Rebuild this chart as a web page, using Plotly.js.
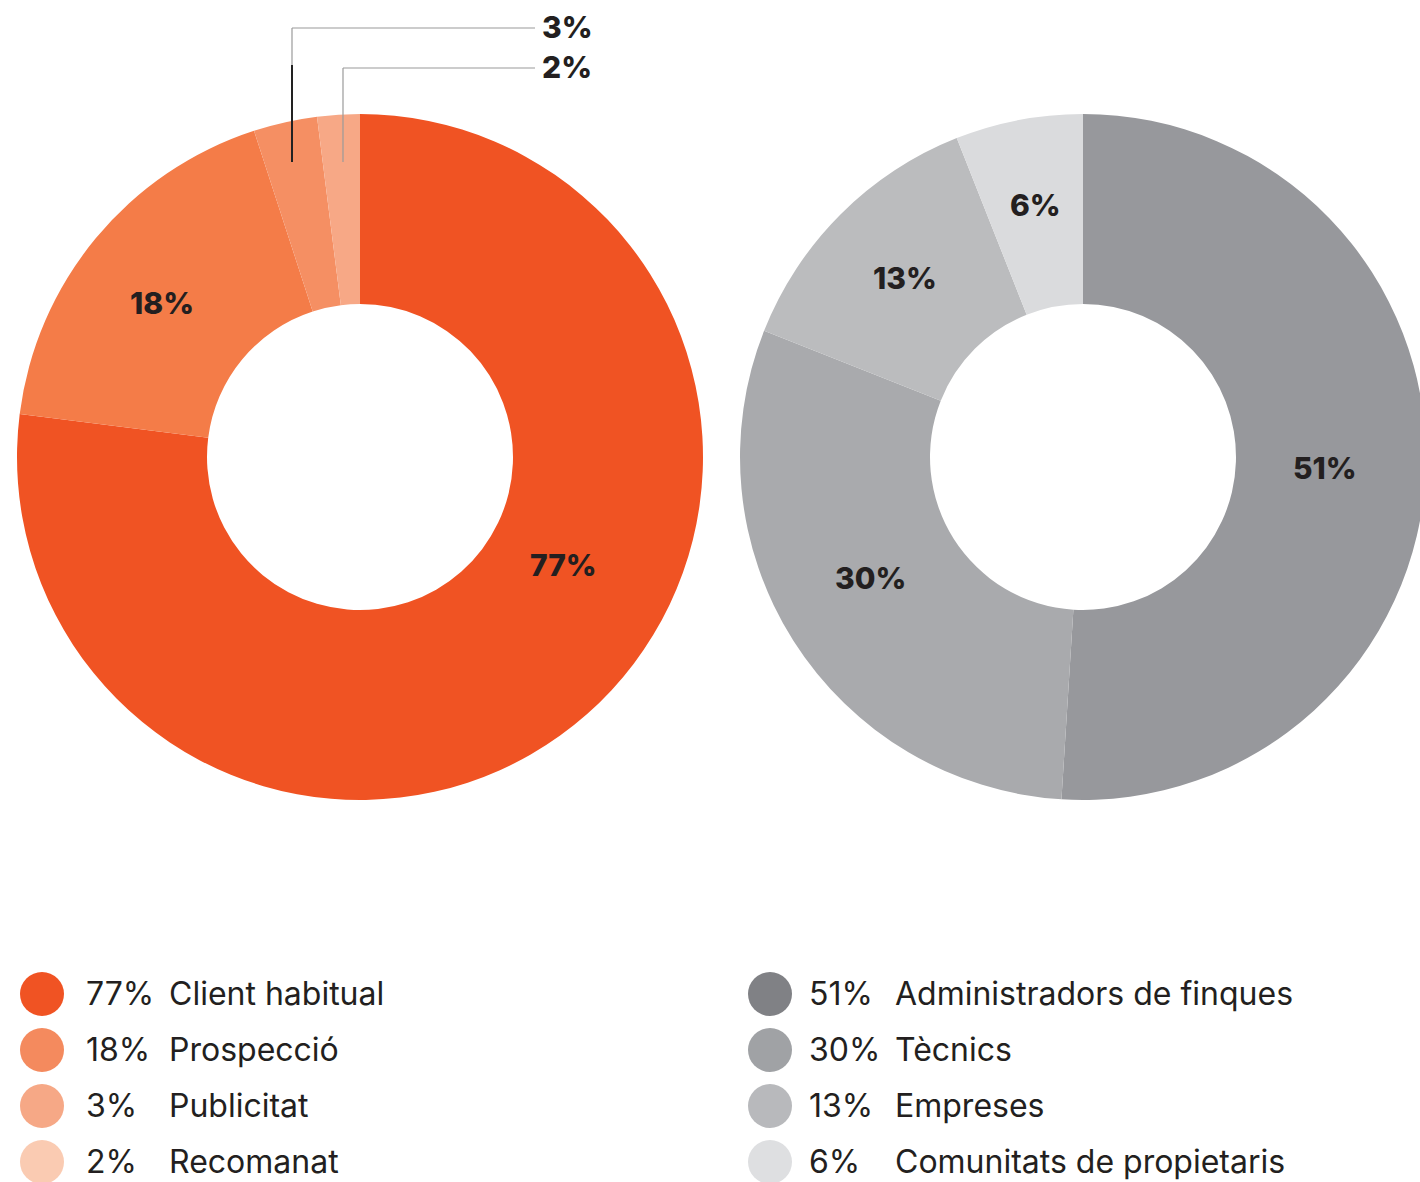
<!DOCTYPE html>
<html>
<head>
<meta charset="utf-8">
<script src="https://cdn.plot.ly/plotly-3.0.1.min.js"></script>
<style>
html,body{margin:0;padding:0;overflow:hidden;background:#fff;}
#chart{width:1430px;height:1182px;}
</style>
</head>
<body>
<div id="chart"></div>
<script>
// ---- data ----
const leftLabels = ["Client habitual", "Prospecció", "Publicitat", "Recomanat"];
const leftValues = [77, 18, 3, 2];
const leftSliceColors = ["#F05323", "#F47C48", "#F58F63", "#F7A886"];
const leftLegendColors = ["#F05323", "#F48A5E", "#F6A886", "#FACBB2"];

const rightLabels = ["Administradors de finques", "Tècnics", "Empreses", "Comunitats de propietaris"];
const rightValues = [51, 30, 13, 6];
const rightSliceColors = ["#97989C", "#A9AAAD", "#BBBCBE", "#DADBDD"];
const rightLegendColors = ["#808185", "#A0A2A5", "#B8B9BC", "#DEDFE1"];

// ---- layout helpers ----
const W = 1430, H = 1182;
const px = x => x / W;
const py = y => 1 - y / H;
const TXT = "#231F20";
const BOLD = {family: "Inter, 'Open Sans', sans-serif", size: 30, color: TXT, weight: 800};
const REG = {family: "Inter, 'Open Sans', sans-serif", size: 32, color: TXT, weight: 400};

const R = 343;
function dom(cx, cy) {
  return {x: [px(cx - R), px(cx + R)], y: [py(cy + R), py(cy - R)]};
}

const traces = [
  {type: "pie", labels: leftLabels, values: leftValues, sort: false, direction: "clockwise",
   rotation: 0, hole: 153 / 343, textinfo: "none", hoverinfo: "label+percent",
   marker: {colors: leftSliceColors, line: {width: 0}}, domain: dom(360, 457), showlegend: false},
  {type: "pie", labels: rightLabels, values: rightValues, sort: false, direction: "clockwise",
   rotation: 0, hole: 153 / 343, textinfo: "none", hoverinfo: "label+percent",
   marker: {colors: rightSliceColors, line: {width: 0}}, domain: dom(1083, 457), showlegend: false}
];

const annotations = [];
const shapes = [];
function lab(text, x, y, anchor, font) {
  annotations.push({text: text, x: px(x), y: py(y), xref: "paper", yref: "paper",
    xanchor: anchor || "center", yanchor: "middle", showarrow: false, font: font || BOLD});
}
// slice labels
lab(leftValues[0] + "%", 563, 565);
lab(leftValues[1] + "%", 162, 303);
lab(leftValues[2] + "%", 540, 27, "left");
lab(leftValues[3] + "%", 540, 67, "left");
lab(rightValues[0] + "%", 1325, 468);
lab(rightValues[1] + "%", 870, 578);
lab(rightValues[2] + "%", 905, 278);
lab(rightValues[3] + "%", 1035, 205);

// leader lines
function seg(x0, y0, x1, y1, color, width) {
  shapes.push({type: "line", xref: "paper", yref: "paper", x0: px(x0), y0: py(y0), x1: px(x1), y1: py(y1),
    line: {color: color, width: width}});
}
seg(292, 162, 292, 28, "#9a9a9a", 1.2);
seg(292, 28, 535, 28, "#9a9a9a", 1.2);
seg(292, 162, 292, 65, "#222222", 2);
seg(343, 162, 343, 68, "#9a9a9a", 1.2);
seg(343, 68, 535, 68, "#9a9a9a", 1.2);

// custom legends
const rows = [994, 1050, 1106, 1162];
function legend(cx, pctX, labX, values, labels, colors) {
  rows.forEach((y, i) => {
    shapes.push({type: "circle", xref: "paper", yref: "paper",
      x0: px(cx - 22), x1: px(cx + 22), y0: py(y + 22), y1: py(y - 22),
      fillcolor: colors[i], line: {width: 0}});
    lab(values[i] + "%", pctX, y - 1, "left", REG);
    lab(labels[i], labX, y - 1, "left", REG);
  });
}
legend(42, 84, 167, leftValues, leftLabels, leftLegendColors);
legend(770, 807, 893, rightValues, rightLabels, rightLegendColors);

const layout = {
  width: W, height: H, margin: {l: 0, r: 0, t: 0, b: 0},
  paper_bgcolor: "#ffffff", plot_bgcolor: "#ffffff",
  showlegend: false, annotations: annotations, shapes: shapes
};
Plotly.newPlot("chart", traces, layout, {displayModeBar: false, staticPlot: true});
</script>
</body>
</html>
